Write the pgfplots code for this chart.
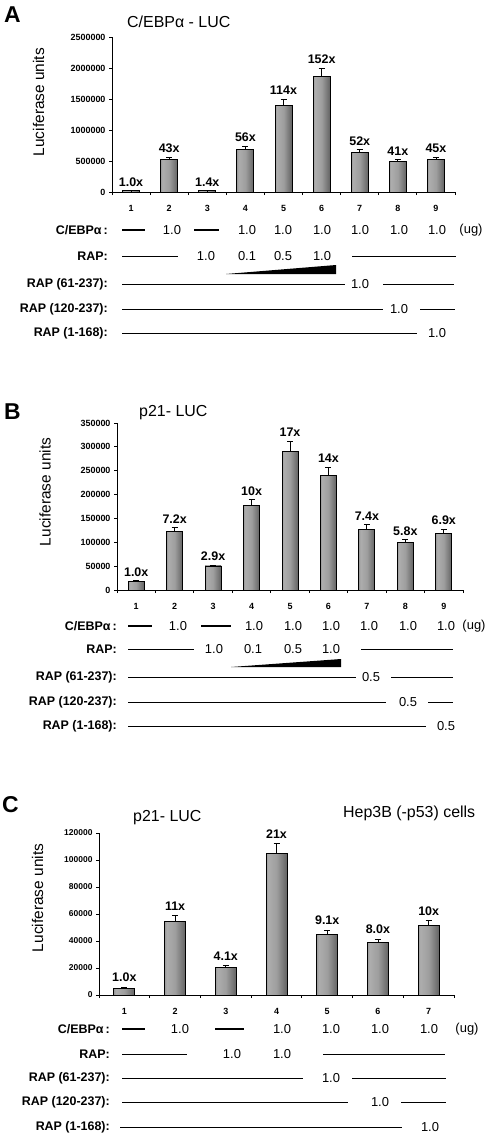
\documentclass[border=0pt]{standalone}
\usepackage{fontspec}
\setmainfont{Liberation Sans}
\usepackage{pgfplots}
\pgfplotsset{compat=1.18}
\usepackage{pgfplotstable}
\pgfdeclarehorizontalshading{barshade}{100bp}{color(0bp)=(black!80); color(30bp)=(black!32); color(50bp)=(black!38); color(100bp)=(black!85)}

\pgfplotstableread{
x y e lab
1 18000 4000 1.0x
2 532000 30000 43x
3 20000 4000 1.4x
4 690000 52000 56x
5 1392000 108000 114x
6 1860000 135000 152x
7 640000 48000 52x
8 500000 27000 41x
9 532000 33000 45x
}\dataA
\pgfplotstableread{
x y e lab
1 18000 1500 1.0x
2 122000 9500 7.2x
3 50400 2100 2.9x
4 177000 13000 10x
5 291000 21000 17x
6 240700 17300 14x
7 127000 9500 7.4x
8 99400 6600 5.8x
9 119000 9000 6.9x
}\dataB
\pgfplotstableread{
x y e lab
1 5200 600 1.0x
2 54700 4200 11x
3 20450 1250 4.1x
4 105000 7100 21x
5 44600 3400 9.1x
6 38700 2700 8.0x
7 51500 3500 10x
}\dataC

\newcommand\rowfont{\fontsize{12.5}{14}\selectfont\bfseries}
\newcommand\valfont{\fontsize{13}{15}\selectfont}
\newcommand\rl[3]{\node[anchor=east, inner sep=0pt, font=\rowfont] at (#1,#2) {#3};}
\newcommand\vl[3]{\node[inner sep=0pt, font=\valfont] at (#1,#2) {#3};}
\newcommand\hl[3]{\draw[line width=0.9bp] (#1,#2) -- (#3,#2);}

\pgfplotsset{
 panel/.style={
  scale only axis, anchor=south west, clip=false,
  axis lines*=left, axis line style={line width=0.9bp},
  tick align=outside, major tick length=3bp,
  tick style={black, line width=0.8bp},
  ymin=0, scaled y ticks=false,
  yticklabel style={/pgf/number format/fixed, /pgf/number format/1000 sep={}, /pgf/number format/assume math mode=true, font=\fontsize{9}{10}\selectfont\bfseries},
  xticklabels={},
  extra x tick style={major tick length=0pt, xticklabel style={yshift=-10bp, font=\fontsize{9}{10}\selectfont\bfseries}},
  every axis y label/.style={rotate=90, anchor=center, font=\fontsize{15.5}{17}\selectfont},
 },
 bars/.style={ybar, bar width=#1, draw=black, line width=0.8bp, shading=barshade, forget plot},
 errs/.style={draw=none, mark=none, forget plot, error bars/.cd, y dir=plus, y explicit, error bar style={draw=black, solid, line width=0.8bp}, error mark options={draw=black, solid, rotate=90, mark size=3bp, line width=0.8bp}},
 labs/.style={draw=none, mark=none, nodes near coords, point meta=explicit symbolic, every node near coord/.style={anchor=south, inner sep=1pt, font=\fontsize{12.5}{14}\selectfont\bfseries, yshift=#1}},
}

\begin{document}
\begin{tikzpicture}
\begin{scope}[x=1bp,y=-1bp]
\path[use as bounding box] (0,0) rectangle (489,1142);
\end{scope}

% ---------------- Panel A ----------------
\begin{axis}[panel, at={(112bp,-192bp)}, width=343bp, height=155bp,
  xmin=0.5, xmax=9.5, ymax=2500000,
  ytick={0,500000,1000000,1500000,2000000,2500000},
  xtick={0.5,1.5,...,9.5},
  extra x ticks={1,2,3,4,5,6,7,8,9},
  extra x tick labels={1,2,3,4,5,6,7,8,9},
  ylabel={Luciferase units},
  ylabel style={at={(axis description cs:-0.214,0.58)}}]
\pgfplotsinvokeforeach{1,...,9}{
\addplot[bars=17bp, restrict x to domain=#1:#1] table[x=x,y=y] {\dataA};
}
\addplot[errs] table[x=x,y=y,y error=e] {\dataA};
\addplot[labs=3bp] table[x=x,y expr=\thisrow{y}+\thisrow{e},meta=lab] {\dataA};
\end{axis}

% ---------------- Panel B ----------------
\begin{axis}[panel, at={(117bp,-590bp)}, width=346bp, height=167bp,
  xmin=0.5, xmax=9.5, ymax=350000,
  ytick={0,50000,100000,150000,200000,250000,300000,350000},
  xtick={0.5,1.5,...,9.5},
  extra x ticks={1,2,3,4,5,6,7,8,9},
  extra x tick labels={1,2,3,4,5,6,7,8,9},
  ylabel={Luciferase units},
  ylabel style={at={(axis description cs:-0.208,0.587)}}]
\pgfplotsinvokeforeach{1,...,9}{
\addplot[bars=16bp, restrict x to domain=#1:#1] table[x=x,y=y] {\dataB};
}
\addplot[errs] table[x=x,y=y,y error=e] {\dataB};
\addplot[labs=3bp] table[x=x,y expr=\thisrow{y}+\thisrow{e},meta=lab] {\dataB};
\end{axis}

% ---------------- Panel C ----------------
\begin{axis}[panel, at={(99bp,-995bp)}, width=355bp, height=162bp,
  xmin=0.5, xmax=7.5, ymax=120000,
  ytick={0,20000,40000,60000,80000,100000,120000},
  yticklabel style={font=\fontsize{8.5}{10}\selectfont\bfseries},
  xtick={0.5,1.5,...,7.5},
  extra x ticks={1,2,3,4,5,6,7},
  extra x tick labels={1,2,3,4,5,6,7},
  ylabel={Luciferase units},
  ylabel style={at={(axis description cs:-0.173,0.599)}}]
\pgfplotsinvokeforeach{1,...,7}{
\addplot[bars=21bp, restrict x to domain=#1:#1] table[x=x,y=y] {\dataC};
}
\addplot[errs] table[x=x,y=y,y error=e] {\dataC};
\addplot[labs=4bp] table[x=x,y expr=\thisrow{y}+\thisrow{e},meta=lab] {\dataC};
\end{axis}

\begin{scope}[x=1bp,y=-1bp]
% titles and letters
\node[anchor=west, inner sep=0pt, font=\fontsize{23}{24}\selectfont\bfseries] at (4,15) {A};
\node[anchor=west, inner sep=0pt, font=\fontsize{16}{18}\selectfont] at (127,22) {C/EBPα - LUC};
\node[anchor=west, inner sep=0pt, font=\fontsize{23}{24}\selectfont\bfseries] at (4,412) {B};
\node[anchor=west, inner sep=0pt, font=\fontsize{16}{18}\selectfont] at (139,413) {p21- LUC};
\node[anchor=west, inner sep=0pt, font=\fontsize{23}{24}\selectfont\bfseries] at (2,805) {C};
\node[anchor=west, inner sep=0pt, font=\fontsize{16}{18}\selectfont] at (133,818) {p21- LUC};
\node[anchor=west, inner sep=0pt, font=\fontsize{16}{18}\selectfont] at (343,813) {Hep3B (-p53) cells};

% ---- Panel A table ----
\rl{108}{230}{C/EBPα\,:}
\draw[line width=1.1bp] (122,230) -- (145,230);
\vl{172}{230}{1.0}
\draw[line width=1.1bp] (194,230) -- (219,230);
\vl{247}{230}{1.0}\vl{283}{230}{1.0}\vl{322}{230}{1.0}\vl{360}{230}{1.0}\vl{399}{230}{1.0}\vl{437}{230}{1.0}
\vl{471}{230}{(ug)}
\rl{108}{256}{RAP:}
\hl{122}{256}{178}
\vl{206}{256}{1.0}\vl{247}{256}{0.1}\vl{283}{256}{0.5}\vl{322}{256}{1.0}
\hl{352}{256}{456}
\fill (226,274) -- (336,274) -- (336,265) -- cycle;
\rl{108}{284}{RAP (61-237):}
\hl{122}{284}{345}\vl{360}{284}{1.0}\hl{383}{284}{454}
\rl{108}{309}{RAP (120-237):}
\hl{122}{309}{383}\vl{399}{309}{1.0}\hl{420}{309}{455}
\rl{108}{333}{RAP (1-168):}
\hl{122}{333}{417}\vl{437}{333}{1.0}

% ---- Panel B table ----
\rl{117}{626}{C/EBPα\,:}
\draw[line width=1.1bp] (128,626) -- (152,626);
\vl{178}{626}{1.0}
\draw[line width=1.1bp] (201,626) -- (231,626);
\vl{254}{626}{1.0}\vl{293}{626}{1.0}\vl{331}{626}{1.0}\vl{369}{626}{1.0}\vl{408}{626}{1.0}\vl{446}{626}{1.0}
\vl{474}{626}{(ug)}
\rl{117}{649}{RAP:}
\hl{128}{649}{194}
\vl{214}{649}{1.0}\vl{253}{649}{0.1}\vl{293}{649}{0.5}\vl{331}{649}{1.0}
\hl{361}{649}{453}
\fill (231,667) -- (341,667) -- (341,659) -- cycle;
\rl{117}{677}{RAP (61-237):}
\hl{128}{677}{356}\vl{371}{677}{0.5}\hl{391}{677}{453}
\rl{117}{702}{RAP (120-237):}
\hl{128}{702}{386}\vl{408}{702}{0.5}\hl{428}{702}{453}
\rl{117}{726}{RAP (1-168):}
\hl{128}{726}{426}\vl{446}{726}{0.5}

% ---- Panel C table ----
\rl{110}{1029}{C/EBPα\,:}
\draw[line width=1.1bp] (122,1029) -- (145,1029);
\vl{180}{1029}{1.0}
\draw[line width=1.1bp] (215,1029) -- (244,1029);
\vl{282}{1029}{1.0}\vl{331}{1029}{1.0}\vl{380}{1029}{1.0}\vl{429}{1029}{1.0}
\vl{467}{1029}{(ug)}
\rl{110}{1054}{RAP:}
\hl{122}{1054}{187}
\vl{232}{1054}{1.0}\vl{282}{1054}{1.0}
\hl{323}{1054}{445}
\rl{110}{1078}{RAP (61-237):}
\hl{122}{1078}{303}\vl{331}{1078}{1.0}\hl{352}{1078}{446}
\rl{110}{1102}{RAP (120-237):}
\hl{122}{1102}{348}\vl{380}{1102}{1.0}\hl{401}{1102}{446}
\rl{110}{1127}{RAP (1-168):}
\hl{120}{1127}{402}\vl{430}{1127}{1.0}
\end{scope}
\end{tikzpicture}
\end{document}
